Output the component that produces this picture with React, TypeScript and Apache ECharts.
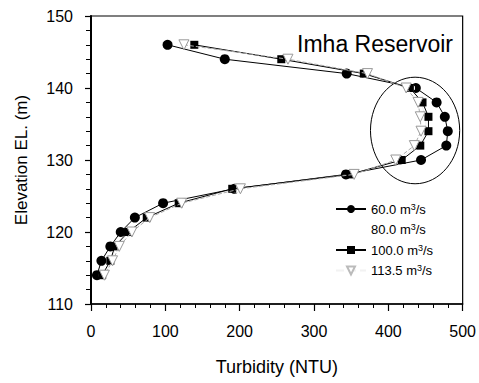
import React, { useEffect, useRef } from "react";
import * as echarts from "echarts";

const elevation = [146, 144, 142, 140, 138, 136, 134, 132, 130, 128, 126, 124, 122, 120, 118, 116, 114];
const turb60 = [103, 180, 344, 437, 465, 476, 480, 478, 444, 343, 193, 97, 59, 40, 26, 14, 8];
const turb80 = [132, 260, 369, 430, 444, 450, 451, 440, 414, 350, 195, 120, 77, 52, 34, 27, 16];
const turb100 = [139, 256, 367, 429, 446, 454, 454, 443, 418, 348, 190, 118, 75, 50, 32, 26, 15];
const turb113 = [125, 265, 372, 424, 440, 443, 444, 435, 410, 354, 201, 122, 79, 55, 38, 29, 18];
const seriesNames = ["60.0 m3/s", "80.0 m3/s", "100.0 m3/s", "113.5 m3/s"];
const ellipseCenter = [436, 134.1];
const ellipseRadius = [60, 7.4];

const pairs = (xs: number[]) => xs.map((x, i) => [x, elevation[i]]);

export default function App() {
  const ref = useRef<HTMLDivElement>(null);
  useEffect(() => {
    if (!ref.current) return;
    const chart = echarts.init(ref.current, null, { renderer: "svg" });
    const font = "Liberation Sans, Arial, sans-serif";
    chart.setOption({
      animation: false,
      backgroundColor: "#fff",
      textStyle: { fontFamily: font, color: "#000" },
      title: {
        text: "Imha Reservoir",
        right: 21,
        top: 27,
        textStyle: { fontFamily: font, fontSize: 23, fontWeight: "normal", color: "#000" },
      },
      grid: {
        left: 91,
        right: 13,
        top: 16,
        bottom: 79,
        show: true,
        borderColor: "#000",
        borderWidth: 1.2,
        backgroundColor: "transparent",
      },
      legend: {
        orient: "vertical",
        left: 330,
        top: 197,
        itemWidth: 30,
        itemHeight: 10,
        itemGap: 7,
        data: [
          { name: seriesNames[0] },
          { name: seriesNames[1], itemStyle: { opacity: 0 }, lineStyle: { opacity: 0 } },
          { name: seriesNames[2] },
          { name: seriesNames[3], itemStyle: { borderColor: "#bbb" }, lineStyle: { opacity: 0.15 } },
        ],
        formatter: (n: string) => n.replace("m3", "m{sup|3}"),
        textStyle: {
          fontFamily: font,
          fontSize: 13,
          color: "#000",
          rich: {
            sup: { fontSize: 9, verticalAlign: "top", lineHeight: 14, fontFamily: font, color: "#000" },
          },
        },
      },
      xAxis: {
        type: "value",
        min: 0,
        max: 500,
        interval: 100,
        name: "Turbidity (NTU)",
        nameLocation: "middle",
        nameGap: 54,
        nameTextStyle: { fontFamily: font, fontSize: 18, color: "#000" },
        axisLine: { lineStyle: { color: "#000", width: 1.5 } },
        axisTick: { inside: false, length: 7, lineStyle: { color: "#000", width: 1.2 } },
        minorTick: { show: true, splitNumber: 5, length: 4, lineStyle: { color: "#000", width: 1 } },
        axisLabel: { fontFamily: font, fontSize: 16, color: "#000", margin: 19 },
        splitLine: { show: false },
      },
      yAxis: {
        type: "value",
        min: 110,
        max: 150,
        interval: 10,
        name: "Elevation EL. (m)",
        nameLocation: "middle",
        nameGap: 61,
        nameTextStyle: { fontFamily: font, fontSize: 17, color: "#000" },
        axisLine: { lineStyle: { color: "#000", width: 2 } },
        axisTick: { inside: false, length: 6, lineStyle: { color: "#000", width: 1.2 } },
        minorTick: { show: true, splitNumber: 5, length: 5, lineStyle: { color: "#000", width: 1 } },
        axisLabel: { fontFamily: font, fontSize: 16, color: "#000", margin: 18 },
        splitLine: { show: false },
      },
      series: [
        {
          name: seriesNames[0],
          type: "line",
          data: pairs(turb60),
          symbol: "circle",
          symbolSize: 10,
          itemStyle: { color: "#000" },
          lineStyle: { color: "#000", width: 1 },
          z: 2,
        },
        {
          name: seriesNames[1],
          type: "line",
          data: pairs(turb80),
          symbol: "circle",
          symbolSize: 8,
          itemStyle: { color: "#fff", borderColor: "#f2f2f2", borderWidth: 1 },
          lineStyle: { color: "#eeeeee", width: 1 },
          z: 3,
        },
        {
          name: seriesNames[2],
          type: "line",
          data: pairs(turb100),
          symbol: "rect",
          symbolSize: 8,
          itemStyle: { color: "#000" },
          lineStyle: { color: "#000", width: 1 },
          z: 4,
        },
        {
          name: seriesNames[3],
          type: "line",
          data: pairs(turb113),
          symbol: "triangle",
          symbolRotate: 180,
          symbolSize: 10,
          itemStyle: { color: "#fff", borderColor: "#999", borderWidth: 1 },
          lineStyle: { color: "#aaa", width: 1, type: "dashed" },
          z: 5,
        },
      ],
    });
    const c = chart.convertToPixel({ gridIndex: 0 }, ellipseCenter) as number[];
    const e = chart.convertToPixel({ gridIndex: 0 }, [ellipseCenter[0] + ellipseRadius[0], ellipseCenter[1] + ellipseRadius[1]]) as number[];
    chart.setOption({
      graphic: [
        {
          type: "ellipse",
          shape: { cx: c[0], cy: c[1], rx: Math.abs(e[0] - c[0]), ry: Math.abs(e[1] - c[1]) },
          style: { fill: "none", stroke: "#000", lineWidth: 1 },
          z: 1,
        },
      ],
    });
    return () => chart.dispose();
  }, []);
  return <div ref={ref} style={{ width: 479, height: 383, position: "absolute", left: 0, top: 0 }} />;
}
